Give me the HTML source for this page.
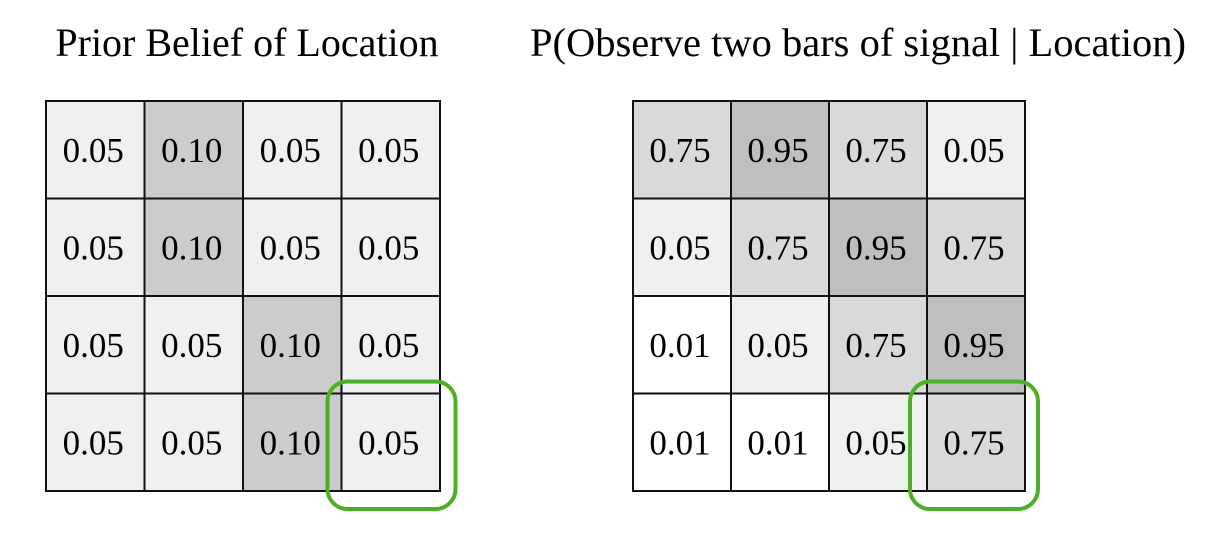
<!DOCTYPE html>
<html><head><meta charset="utf-8"><style>
html,body{margin:0;padding:0;background:#fff;width:1214px;height:536px;overflow:hidden}
svg text{font-family:"Liberation Serif",serif}
</style></head><body>
<svg id="chart" width="1214" height="536">
<text x="247" y="56" font-size="40" text-anchor="middle">Prior Belief of Location</text>
<text x="858" y="56" font-size="40.5" text-anchor="middle">P(Observe two bars of signal | Location)</text>
<g id="left"></g>
<g id="right"></g>
</svg>
<script>
const priorValues = [
  [0.05,0.10,0.05,0.05],
  [0.05,0.10,0.05,0.05],
  [0.05,0.05,0.10,0.05],
  [0.05,0.05,0.10,0.05]
];
const likelihoodValues = [
  [0.75,0.95,0.75,0.05],
  [0.05,0.75,0.95,0.75],
  [0.01,0.05,0.75,0.95],
  [0.01,0.01,0.05,0.75]
];
const highlightCell = [3,3];
const NS='http://www.w3.org/2000/svg';
function color(v){
  if(v>=0.9) return '#bfbfbf';
  if(v>=0.5) return '#d9d9d9';
  if(v>=0.1) return '#cccccc';
  if(v>=0.04) return '#f0f0f0';
  return '#ffffff';
}
function draw(gid, vals, x0, y0, cw, boxOff){
  const g=document.getElementById(gid);
  const ch=97.5;
  vals.forEach((row,r)=>row.forEach((v,c)=>{
    const rect=document.createElementNS(NS,'rect');
    rect.setAttribute('x',x0+c*cw);rect.setAttribute('y',y0+r*ch);
    rect.setAttribute('width',cw);rect.setAttribute('height',ch);
    rect.setAttribute('fill',color(v));rect.setAttribute('stroke','#111');rect.setAttribute('stroke-width','2');
    
    
    g.appendChild(rect);
    const t=document.createElementNS(NS,'text');
    t.setAttribute('x',x0+c*cw+cw/2-2);t.setAttribute('y',y0+r*ch+ch/2+12);
    t.setAttribute('font-size','35');t.setAttribute('text-anchor','middle');
    t.textContent=v.toFixed(2);
    
    
    g.appendChild(t);
  }));
  const h=document.createElementNS(NS,'rect');
  const [hr,hc]=highlightCell;
  h.setAttribute('x',x0+hc*cw-boxOff);h.setAttribute('y',y0+hr*ch-12);
  h.setAttribute('width',128);h.setAttribute('height',ch+30);
  h.setAttribute('rx','20');h.setAttribute('fill','none');
  h.setAttribute('stroke','#4caf24');h.setAttribute('stroke-width','4');
  
  
  g.appendChild(h);
}
draw('left',priorValues,46,101,98.5,14);
draw('right',likelihoodValues,633,101,98,17);
</script>
</body></html>
